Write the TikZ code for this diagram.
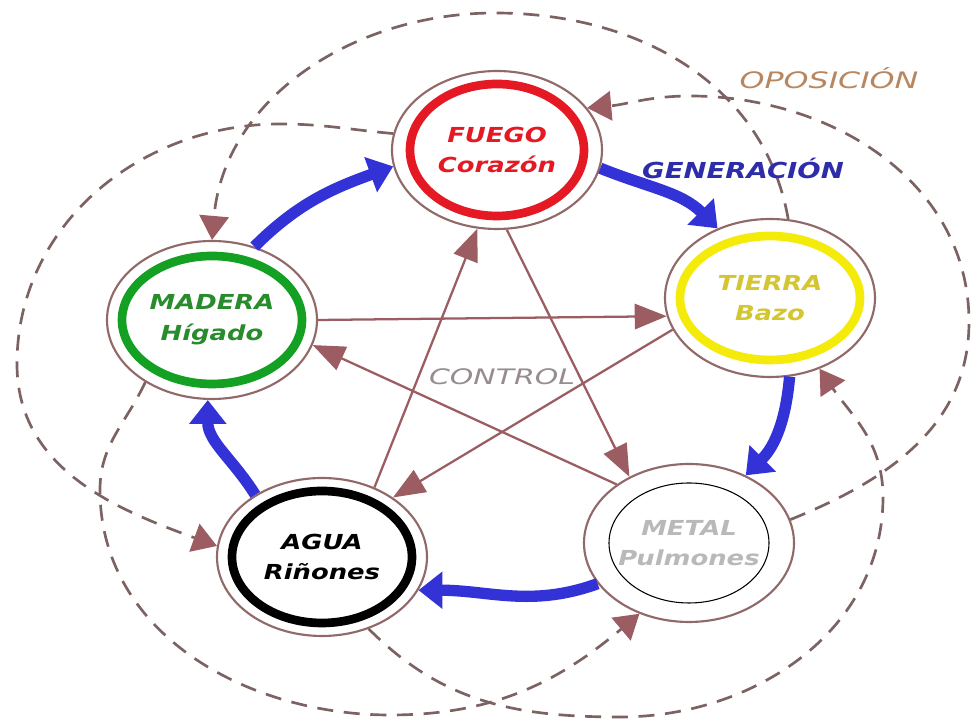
\documentclass[tikz,border=0pt]{standalone}
\usepackage{fontspec}
\usetikzlibrary{arrows.meta,shapes.geometric}
\newfontfamily\dvs[FakeStretch=1.25]{DejaVu Sans}
\newfontfamily\dvw[FakeStretch=1.4]{DejaVu Sans}
\definecolor{ringbrown}{RGB}{145,105,105}
\definecolor{ctrl}{RGB}{155,92,98}
\definecolor{opp}{RGB}{125,98,98}
\definecolor{genblue}{RGB}{50,50,215}
\definecolor{fred}{RGB}{228,25,35}
\definecolor{tyel}{RGB}{245,235,10}
\definecolor{ttext}{RGB}{212,198,50}
\definecolor{mgreen}{RGB}{20,160,35}
\definecolor{mtext}{RGB}{40,140,45}
\definecolor{metgray}{RGB}{185,185,185}
\definecolor{genlbl}{RGB}{45,45,170}
\definecolor{opplbl}{RGB}{185,135,95}
\definecolor{ctrllbl}{RGB}{150,140,145}
\begin{document}
\begin{tikzpicture}[x=0.75pt,y=0.75pt,
  elem/.style={ellipse, draw=ringbrown, line width=1.6pt, minimum width=157.5pt,
    minimum height=118.5pt, inner sep=0pt, align=center,
    font=\dvs\bfseries\itshape\fontsize{15.5}{23}\selectfont},
  gen/.style={draw=genblue, line width=8.5pt, -{Triangle[length=18pt,width=27pt]}},
  ctrlarrow/.style={draw=ctrl, line width=1.7pt, -{Triangle[length=24pt,width=19pt]}},
  opparrow/.style={draw=opp, line width=2pt, dash pattern=on 12pt off 8pt,
    -{Triangle[length=18pt,width=22pt,color=ctrl]}},
  lbl/.style={font=\dvw\itshape\fontsize{17}{20}\selectfont, inner sep=0pt}
]
\fill[white] (0,0) rectangle (972,727);
\useasboundingbox (0,0) rectangle (972,727);

% elements
\node[elem, text=fred] (fuego) at (497,577) {FUEGO\\Corazón};
\node[elem, text=ttext] (tierra) at (770,429) {TIERRA\\Bazo};
\node[elem, text=mtext] (madera) at (212,407) {MADERA\\Hígado};
\node[elem, text=black] (agua) at (322,170) {AGUA\\Riñones};
\node[elem, text=metgray] (metal) at (689,184) {METAL\\Pulmones};

% inner rings
\draw[fred, line width=6.5pt] (fuego.center) ellipse [x radius=65.25pt, y radius=49.5pt];
\draw[tyel, line width=6.5pt] (tierra.center) ellipse [x radius=67.5pt, y radius=46.5pt];
\draw[mgreen, line width=6.5pt] (madera.center) ellipse [x radius=67.5pt, y radius=48pt];
\draw[black, line width=6.5pt] (agua.center) ellipse [x radius=67.5pt, y radius=49.5pt];
\draw[black, line width=0.8pt] (metal.center) ellipse [x radius=60pt, y radius=45pt];

% waypoints of the opposition arcs
\coordinate (a1) at (280,603);
\coordinate (a2) at (17,363);
\coordinate (b1) at (495,714);
\coordinate (c1) at (969,405);
\coordinate (c2) at (690,631);
\coordinate (d1) at (620,10);
\coordinate (d2) at (883,230);
\coordinate (e1) at (100,237);
\coordinate (e2) at (390,12);

% opposition (dashed)
\draw[opparrow] (fuego.171) to[out=175,in=0] (a1) to[out=180,in=90] (a2)
  to[out=-90,in=160] (agua.174);
\draw[opparrow] (tierra.77) to[out=100,in=0] (b1) to[out=180,in=85] (madera.90);
\draw[opparrow] (metal.13) to[out=22,in=-90] (c1) to[out=90,in=0] (c2)
  to[out=180,in=5] (fuego.25);
\draw[opparrow] (agua.-57) to[out=-45,in=180] (d1) to[out=0,in=-90] (d2)
  to[out=90,in=-56] (tierra.-55);
\draw[opparrow] (madera.223) to[out=-115,in=90] (e1) to[out=-90,in=180] (e2)
  to[out=0,in=220] (metal.235);

% control (star)
\draw[ctrlarrow] (madera.east) -- (tierra.190);
\draw[ctrlarrow] (tierra.198) -- (agua.40);
\draw[ctrlarrow] (agua.53) -- (fuego.256);
\draw[ctrlarrow] (fuego.277) -- (metal.132);
\draw[ctrlarrow] (metal.141) -- (madera.346);

% generation (blue)
\draw[gen] (madera.60) to[out=45,in=200] (fuego.189);
\draw[gen] (fuego.-10) to[out=-22,in=135] (tierra.127);
\draw[gen] (tierra.-76) to[out=-95,in=45] (metal.50);
\draw[gen] (metal.204) to[out=200,in=0] (agua.-19);
\draw[gen] (agua.137) to[out=122,in=-90] (madera.267);

% labels
\node[lbl, font=\dvs\bfseries\itshape\fontsize{16.5}{20}\selectfont, text=genlbl] (genlabel) at (743,559) {GENERACIÓN};
\node[lbl, text=opplbl] (opplabel) at (829,649) {OPOSICIÓN};
\node[lbl, font=\dvw\itshape\fontsize{16}{20}\selectfont, text=ctrllbl] (ctrllabel) at (502,350) {CONTROL};
\end{tikzpicture}
\end{document}
